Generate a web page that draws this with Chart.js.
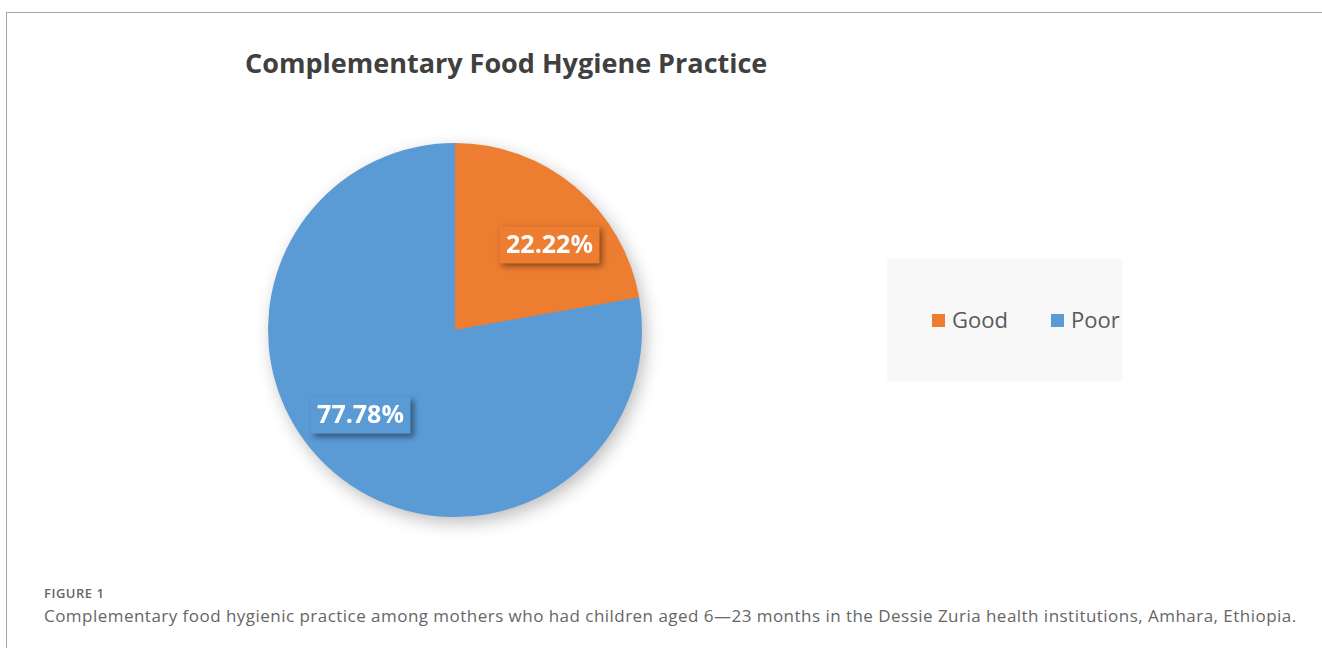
<!DOCTYPE html>
<html lang="en">
  <head>
    <meta charset="UTF-8" />
    <title>Complementary Food Hygiene Practice</title>
    <script src="https://cdn.jsdelivr.net/npm/chart.js"></script>
    <style>
      body { margin: 0; width: 1322px; height: 648px; background: #fff; position: relative; overflow: hidden; font-family: "Open Sans", sans-serif; }
      .frame { position: absolute; left: 6px; top: 12px; right: 0; bottom: 0; border-top: 1px solid #a6a6a6; border-left: 1px solid #a6a6a6; }
      .chart-box { position: absolute; left: 8px; top: 13px; width: 1314px; height: 557px; }
      .title { position: absolute; left: 245px; top: 44px; font-size: 27px; font-weight: bold; color: #404040; white-space: nowrap; letter-spacing: 0px; }
      .legend { position: absolute; left: 887px; top: 259px; width: 235px; height: 122px; background: #f8f8f8; }
      .legend span { position: absolute; top: 45px; font-size: 22px; color: #595959; }
      .legend i { display: inline-block; width: 13px; height: 13px; margin-right: 7px; vertical-align: 1px; }
      .fig { position: absolute; left: 44px; top: 584px; font-size: 13px; font-weight: 600; color: #666; letter-spacing: 0.5px; }
      .caption { position: absolute; left: 44px; top: 604px; font-size: 17px; color: #666; white-space: nowrap; letter-spacing: 0.47px; }
    </style>
  </head>
  <body>
    <div class="frame"></div>
    <div class="title">Complementary Food Hygiene Practice</div>
    <div class="chart-box"><canvas id="pieChart"></canvas></div>
    <div class="legend" id="legend"></div>
    <div class="fig">FIGURE 1</div>
    <div class="caption">Complementary food hygienic practice among mothers who had children aged 6—23 months in the Dessie Zuria health institutions, Amhara, Ethiopia.</div>

    <script>
      const categories = ["Good", "Poor"];
      const percentValues = [22.22, 77.78];
      const sliceColors = ["#ED7D31", "#5B9BD5"];

      // legend in the grey box on the right
      const legendEl = document.getElementById("legend");
      legendEl.innerHTML = categories
        .map((c, i) => `<span style="left:${i === 0 ? 45 : 164}px"><i style="background:${sliceColors[i]}"></i>${c}</span>`)
        .join("");

      // soft shadow under the whole pie
      const pieShadow = {
        id: "pieShadow",
        beforeDatasetsDraw(chart) {
          const arc = chart.getDatasetMeta(0).data[0];
          if (!arc) return;
          const ctx = chart.ctx;
          ctx.save();
          ctx.shadowColor = "rgba(0,0,0,0.28)";
          ctx.shadowBlur = 18;
          ctx.shadowOffsetX = 4;
          ctx.shadowOffsetY = 6;
          ctx.fillStyle = sliceColors[1];
          ctx.beginPath();
          ctx.arc(arc.x, arc.y, arc.outerRadius - 1, 0, Math.PI * 2);
          ctx.fill();
          ctx.restore();
        },
      };

      // percent labels in filled boxes with a drop shadow
      const boxLabels = {
        id: "boxLabels",
        afterDatasetsDraw(chart) {
          const ctx = chart.ctx;
          const meta = chart.getDatasetMeta(0);
          meta.data.forEach((arc, i) => {
            const mid = (arc.startAngle + arc.endAngle) / 2 + (8 * Math.PI) / 180;
            const r = arc.outerRadius * 0.68;
            const x = arc.x + Math.cos(mid) * r;
            const y = arc.y + Math.sin(mid) * r;
            const text = percentValues[i].toFixed(2) + "%";
            ctx.save();
            ctx.font = "bold 25px 'Open Sans'";
            const w = 100, h = 37;
            ctx.shadowColor = "rgba(0,0,0,0.45)";
            ctx.shadowBlur = 6;
            ctx.shadowOffsetX = 3;
            ctx.shadowOffsetY = 3;
            ctx.fillStyle = sliceColors[i];
            ctx.fillRect(x - w / 2, y - h / 2, w, h);
            ctx.shadowColor = "transparent";
            ctx.fillStyle = "#fff";
            ctx.textAlign = "center";
            ctx.textBaseline = "middle";
            ctx.fillText(text, x, y + 1);
            ctx.restore();
          });
        },
      };

      new Chart(document.getElementById("pieChart"), {
        type: "pie",
        data: {
          labels: categories,
          datasets: [
            {
              data: percentValues,
              backgroundColor: sliceColors,
              borderWidth: 0,
            },
          ],
        },
        options: {
          responsive: true,
          maintainAspectRatio: false,
          animation: false,
          layout: { padding: { left: 260, right: 680, top: 130, bottom: 53 } },
          plugins: {
            legend: { display: false },
            tooltip: { enabled: false },
          },
        },
        plugins: [pieShadow, boxLabels],
      });
    </script>
  </body>
</html>
